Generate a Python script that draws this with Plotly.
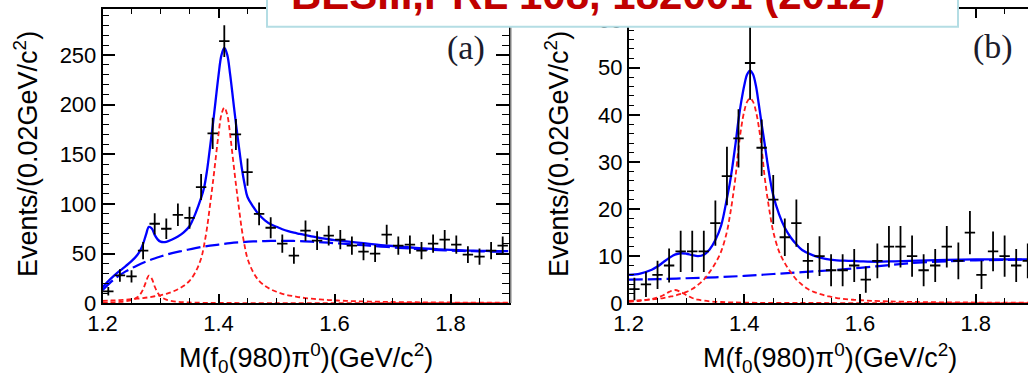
import plotly.graph_objects as go

# ---------------- Panel (a) ----------------
A_BIN_X = [1.21, 1.23, 1.25, 1.27, 1.29, 1.31, 1.33, 1.35, 1.37, 1.39, 1.41, 1.43, 1.45, 1.47, 1.49,
           1.51, 1.53, 1.55, 1.57, 1.59, 1.61, 1.63, 1.65, 1.67, 1.69, 1.71, 1.73, 1.75, 1.77, 1.79,
           1.81, 1.83, 1.85, 1.87, 1.89]
A_EVENTS = [12, 28, 27, 53, 80, 75, 89, 86, 117, 171, 264, 170, 132, 90, 76,
            60, 48, 73, 63, 68, 64, 58, 52, 50, 69, 58, 59, 53, 60, 64,
            59, 49, 47, 53, 58]
A_ERR = [4.2, 6.3, 6.2, 8.7, 10.7, 10.4, 11.3, 11.1, 13, 15.7, 16, 15.6, 13.8, 11.4, 10.5,
         9.3, 8.3, 10.3, 9.5, 9.9, 9.6, 9.1, 8.7, 8.5, 10, 9.1, 9.2, 8.7, 9.3, 9.6,
         9.2, 8.4, 8.2, 8.7, 9.1]

A_TOT_X = [1.20, 1.21, 1.22, 1.23, 1.24, 1.25, 1.26, 1.265, 1.27, 1.275, 1.28, 1.285, 1.29, 1.295,
           1.30, 1.31, 1.32, 1.33, 1.34, 1.35, 1.36, 1.37, 1.375, 1.38, 1.385, 1.39, 1.395, 1.40,
           1.405, 1.41, 1.415, 1.42, 1.425, 1.43, 1.435, 1.44, 1.445, 1.45, 1.46, 1.47, 1.48, 1.49,
           1.50, 1.51, 1.52, 1.53, 1.54, 1.55, 1.56, 1.57, 1.58, 1.59, 1.60, 1.62, 1.64, 1.66, 1.68,
           1.70, 1.72, 1.74, 1.76, 1.78, 1.80, 1.82, 1.84, 1.86, 1.88, 1.90]
A_TOT_Y = [15.8, 22.2, 27.7, 32.7, 37.4, 42.3, 48.6, 53.1, 59.8, 69.0, 76.8, 75.2, 68.8, 64.3,
           62.0, 61.8, 64.1, 67.2, 71.4, 77.5, 90, 106, 116, 132.8, 155.2, 178.6, 203.9, 229.2,
           249.6, 257.0, 250.3, 230.7, 206.0, 181.2, 158.5, 136.7, 119.9, 107.0, 97, 89, 83.5, 79.5,
           77, 74.5, 72.5, 71, 69.8, 68.6, 67.4, 66.3, 65.3, 64.4, 63.6, 62.2, 61.0, 59.8, 58.6,
           57.6, 56.6, 55.7, 54.9, 54.3, 53.7, 53.2, 52.9, 52.6, 52.5, 52.4]

A_BKG_X = [1.20, 1.22, 1.24, 1.26, 1.28, 1.30, 1.32, 1.34, 1.36, 1.38, 1.40, 1.42, 1.44, 1.46,
           1.48, 1.50, 1.52, 1.54, 1.56, 1.58, 1.60, 1.62, 1.64, 1.66, 1.68, 1.70, 1.72, 1.74,
           1.76, 1.78, 1.80, 1.82, 1.84, 1.86, 1.88, 1.90]
A_BKG_Y = [13, 24, 32, 38, 43, 47, 50.5, 53, 55.5, 57.5, 59, 60.5, 61.5, 62.2,
           62.6, 62.8, 62.8, 62.5, 62, 61.3, 60.5, 59.7, 58.8, 57.9, 57, 56.2, 55.4, 54.7,
           54, 53.5, 53, 52.6, 52.3, 52.1, 52, 52]

A_SIG_X = [1.20, 1.21, 1.22, 1.23, 1.24, 1.25, 1.26, 1.27, 1.28, 1.29, 1.30, 1.31, 1.32, 1.33,
           1.34, 1.35, 1.36, 1.37, 1.375, 1.38, 1.385, 1.39, 1.395, 1.40, 1.405, 1.41, 1.415,
           1.42, 1.425, 1.43, 1.435, 1.44, 1.445, 1.45, 1.46, 1.47, 1.48, 1.49, 1.50, 1.51, 1.52,
           1.53, 1.54, 1.55, 1.56, 1.57, 1.58, 1.59, 1.60, 1.61, 1.62, 1.63, 1.64, 1.65, 1.66,
           1.67, 1.68, 1.69, 1.70, 1.72, 1.74, 1.76, 1.78, 1.80, 1.82, 1.84, 1.86, 1.88, 1.90]
A_SIG_Y = [2.33, 2.57, 2.85, 3.17, 3.54, 3.99, 4.53, 5.17, 5.99, 6.99, 8.0, 9.5, 11.5, 14,
           17.5, 22.5, 31, 45, 58, 75, 97, 120, 145, 170, 190, 197, 190,
           170, 145, 120, 97, 75, 58, 45, 31, 22.5, 17.5, 14, 11.5, 9.5, 8.0,
           6.99, 5.99, 5.17, 4.53, 3.99, 3.54, 3.17, 2.85, 2.57, 2.33, 2.13, 1.95, 1.79, 1.65,
           1.53, 1.42, 1.32, 1.23, 1.08, 0.95, 0.85, 0.76, 0.68, 0.62, 0.56, 0.51, 0.47, 0.43]

A_F1_X = [1.20, 1.21, 1.22, 1.23, 1.24, 1.25, 1.26, 1.265, 1.27, 1.275, 1.28, 1.285, 1.29, 1.295,
          1.30, 1.31, 1.32, 1.33, 1.34, 1.35, 1.36, 1.38, 1.40, 1.50, 1.60, 1.70, 1.80, 1.90]
A_F1_Y = [0.51, 0.66, 0.88, 1.24, 1.88, 3.13, 6.03, 8.99, 14.0, 21.6, 27.8, 24.7, 16.8, 10.7,
          7.03, 3.52, 2.06, 1.35, 0.94, 0.69, 0.53, 0.34, 0.24, 0.1, 0.05, 0.03, 0.02, 0.02]

# ---------------- Panel (b) ----------------
B_BIN_X = [1.21, 1.23, 1.25, 1.27, 1.29, 1.31, 1.33, 1.35, 1.37, 1.39, 1.41, 1.43, 1.45, 1.47, 1.49,
           1.51, 1.53, 1.55, 1.57, 1.59, 1.61, 1.63, 1.65, 1.67, 1.69, 1.71, 1.73, 1.75, 1.77, 1.79,
           1.81, 1.83, 1.85, 1.87, 1.89]
B_EVENTS = [3, 4, 6, 8, 11, 11, 11, 17, 27, 35, 51, 33, 22, 14, 17,
            9, 10, 7, 7, 8, 5, 9, 12, 12, 10, 7, 8, 12, 9, 15,
            6, 11, 10, 8, 9]
B_ERR = [2.4, 2.7, 3.0, 3.6, 4.4, 4.4, 4.4, 4.8, 6.2, 6.2, 7.8, 6.0, 5.2, 4.0, 5.0,
         3.8, 4.2, 3.4, 3.4, 3.5, 2.8, 3.7, 4.4, 4.4, 4.4, 3.4, 3.5, 4.4, 3.9, 4.6,
         3.0, 4.2, 4.4, 3.5, 3.7]

B_TOT_X = [1.20, 1.22, 1.24, 1.25, 1.26, 1.27, 1.28, 1.29, 1.30, 1.31, 1.32, 1.33, 1.34, 1.35,
           1.36, 1.37, 1.375, 1.38, 1.385, 1.39, 1.395, 1.40, 1.405, 1.41, 1.415, 1.42, 1.425,
           1.43, 1.435, 1.44, 1.445, 1.45, 1.46, 1.47, 1.48, 1.49, 1.50, 1.52, 1.54, 1.56, 1.58,
           1.60, 1.63, 1.66, 1.70, 1.75, 1.80, 1.85, 1.90]
B_TOT_Y = [6.0, 6.3, 7.1, 7.8, 8.7, 9.6, 10.3, 10.6, 10.5, 10.2, 10.0, 10.3, 11.4, 13.4,
           16.5, 22.3, 25.5, 29.5, 34, 38.9, 43.0, 46.3, 48.6, 49.4, 48.6, 46.2, 42.3,
           38.0, 34.0, 29.8, 26.0, 22.9, 18.9, 16.0, 14.0, 12.5, 11.3, 10.1, 9.4, 9.1, 9.0,
           8.9, 8.8, 8.9, 9.05, 9.2, 9.3, 9.3, 9.3]

B_BKG_X = [1.20, 1.25, 1.30, 1.35, 1.40, 1.45, 1.50, 1.55, 1.60, 1.65, 1.70, 1.75, 1.80, 1.85, 1.90]
B_BKG_Y = [5.0, 5.1, 5.3, 5.5, 5.8, 6.2, 6.6, 7.0, 7.5, 8.1, 8.6, 8.9, 9.1, 9.2, 9.3]

B_SIG_X = [1.20, 1.21, 1.22, 1.23, 1.24, 1.25, 1.26, 1.27, 1.28, 1.29, 1.30, 1.31, 1.32, 1.33,
           1.34, 1.35, 1.36, 1.37, 1.375, 1.38, 1.385, 1.39, 1.395, 1.40, 1.405, 1.41, 1.415,
           1.42, 1.425, 1.43, 1.435, 1.44, 1.445, 1.45, 1.46, 1.47, 1.48, 1.49, 1.50, 1.51, 1.52,
           1.53, 1.54, 1.55, 1.56, 1.57, 1.58, 1.59, 1.60, 1.61, 1.62, 1.65, 1.70, 1.75, 1.80,
           1.85, 1.90]
B_SIG_Y = [0.5, 0.56, 0.63, 0.72, 0.82, 0.95, 1.1, 1.35, 1.6, 2.0, 2.4, 3.0, 3.9, 5.0,
           6.6, 8.5, 11, 15.2, 18.5, 22.4, 27, 32.9, 37.5, 40.8, 42.8, 43.5, 42.8,
           40.8, 37.5, 32.9, 27, 22.4, 18.5, 15.2, 11, 8.5, 6.6, 5.0, 3.9, 3.0, 2.4,
           2.0, 1.6, 1.35, 1.1, 0.95, 0.82, 0.72, 0.63, 0.56, 0.5, 0.38, 0.25, 0.18, 0.14,
           0.11, 0.09]

B_F1_X = [1.20, 1.22, 1.24, 1.25, 1.26, 1.27, 1.28, 1.29, 1.30, 1.31, 1.32, 1.34, 1.36, 1.40,
          1.50, 1.60, 1.90]
B_F1_Y = [0.3, 0.5, 0.9, 1.2, 1.7, 2.4, 2.8, 2.4, 1.7, 1.1, 0.75, 0.4, 0.25, 0.12,
          0.05, 0.03, 0.01]

X_TICKS = [1.2, 1.4, 1.6, 1.8]
X_TICK_TEXT = ["1.2", "1.4", "1.6", "1.8"]
TITLE = "BESIII,PRL 108, 182001 (2012)"
X_TITLE = "M(f<sub>0</sub>(980)π<sup>0</sup>)(GeV/c<sup>2</sup>)"
Y_TITLE = "Events/(0.02GeV/c<sup>2</sup>)"

W, H = 1028, 378
FONT = "Liberation Sans, Arial, sans-serif"
BLUE = "#0000ff"
RED = "#ff1a1a"

fig = go.Figure()


def add_panel(xa, ya, tx, ty, bx, by, sx, sy, fx, fy, px, pv, pe):
    fig.add_trace(go.Scatter(x=bx, y=by, mode="lines", line=dict(color=BLUE, width=2.2, dash="14px,5px", shape="spline"),
                             xaxis=xa, yaxis=ya, showlegend=False, hoverinfo="skip"))
    fig.add_trace(go.Scatter(x=sx, y=sy, mode="lines", line=dict(color=RED, width=1.8, dash="5px,3px", shape="spline"),
                             xaxis=xa, yaxis=ya, showlegend=False, hoverinfo="skip"))
    fig.add_trace(go.Scatter(x=fx, y=fy, mode="lines", line=dict(color=RED, width=1.8, dash="5px,3px", shape="spline"),
                             xaxis=xa, yaxis=ya, showlegend=False, hoverinfo="skip"))
    fig.add_trace(go.Scatter(x=tx, y=ty, mode="lines", line=dict(color=BLUE, width=2.3, shape="spline"),
                             xaxis=xa, yaxis=ya, showlegend=False, hoverinfo="skip"))
    fig.add_trace(go.Scatter(x=px, y=pv, mode="markers", marker=dict(size=2, color="black"),
                             error_x=dict(type="constant", value=0.009, color="black", thickness=1.8, width=0),
                             error_y=dict(type="data", array=pe, color="black", thickness=1.8, width=0),
                             xaxis=xa, yaxis=ya, showlegend=False, hoverinfo="skip"))


add_panel("x", "y", A_TOT_X, A_TOT_Y, A_BKG_X, A_BKG_Y, A_SIG_X, A_SIG_Y, A_F1_X, A_F1_Y,
          A_BIN_X, A_EVENTS, A_ERR)
add_panel("x2", "y2", B_TOT_X, B_TOT_Y, B_BKG_X, B_BKG_Y, B_SIG_X, B_SIG_Y, B_F1_X, B_F1_Y,
          B_BIN_X, B_EVENTS, B_ERR)

ydom = [(H - 303.2) / H, (H - 9.3) / H]
common = dict(showline=True, linecolor="black", linewidth=1.5, ticks="inside", tickcolor="black",
              tickwidth=1.5, showgrid=False, zeroline=False, automargin=False,
              tickfont=dict(family=FONT, size=22, color="black"))

xcommon = dict(common, tickvals=X_TICKS, ticktext=X_TICK_TEXT, ticklen=9,
               minor=dict(dtick=0.05, tick0=1.2, ticklen=5, ticks="inside", tickcolor="black", tickwidth=1.2))

fig.update_layout(
    template="none",
    width=W, height=H, margin=dict(l=0, r=0, t=0, b=0, pad=0, autoexpand=False),
    paper_bgcolor="white", plot_bgcolor="white",
    xaxis=dict(xcommon, domain=[102.5 / W, 508.5 / W], range=[1.2, 1.9], anchor="y", mirror="ticks"),
    yaxis=dict(common, domain=ydom, range=[0, 296], dtick=50, tick0=0, ticklen=13, anchor="x", mirror="ticks",
               minor=dict(dtick=10, tick0=0, ticklen=7, ticks="inside", tickcolor="black", tickwidth=1.2)),
    xaxis2=dict(xcommon, domain=[628.6 / W, 1.0], range=[1.2, 1.2 + (W - 628.6) / 578.5], anchor="y2", mirror="ticks"),
    yaxis2=dict(common, domain=ydom, range=[0, 62.4], dtick=10, tick0=0, ticklen=12, anchor="x2", mirror=False,
                minor=dict(dtick=2, tick0=0, ticklen=6, ticks="inside", tickcolor="black", tickwidth=1.2)),
)

# separator line and title box
fig.add_shape(type="line", xref="paper", yref="paper", x0=511 / W, x1=511 / W,
              y0=(H - 303) / H, y1=(H - 27) / H, line=dict(color="#aaaaaa", width=1.5))
fig.add_shape(type="rect", xref="paper", yref="paper", x0=267 / W, x1=958 / W,
              y0=(H - 26.7) / H, y1=1.1, line=dict(color="#b4dde4", width=2), fillcolor="white", layer="above")

ann = []
ann.append(dict(text=TITLE, xref="paper", yref="paper", x=588 / W, y=(H - 20) / H, xanchor="center",
                yanchor="bottom", showarrow=False,
                font=dict(family=FONT, size=42, color="#c00000", weight="bold")))
for cx in (305.5, 830):
    ann.append(dict(text=X_TITLE, xref="paper", yref="paper", x=cx / W, y=(H - 358) / H, xanchor="center",
                    yanchor="middle", showarrow=False, font=dict(family=FONT, size=27, color="black")))
for cx in (26, 557):
    ann.append(dict(text=Y_TITLE, xref="paper", yref="paper", x=cx / W, y=(H - 154) / H, xanchor="center",
                    yanchor="middle", textangle=-90, showarrow=False,
                    font=dict(family=FONT, size=27, color="black")))
ann.append(dict(text="(a)", xref="paper", yref="paper", x=466 / W, y=(H - 48) / H, xanchor="center",
                yanchor="middle", showarrow=False, font=dict(family="Liberation Serif, serif", size=34, color="#1c1c2c")))
ann.append(dict(text="(b)", xref="paper", yref="paper", x=993 / W, y=(H - 47) / H, xanchor="center",
                yanchor="middle", showarrow=False, font=dict(family="Liberation Serif, serif", size=34, color="#1c1c2c")))
fig.update_layout(annotations=ann)

fig.write_html("out.html")
